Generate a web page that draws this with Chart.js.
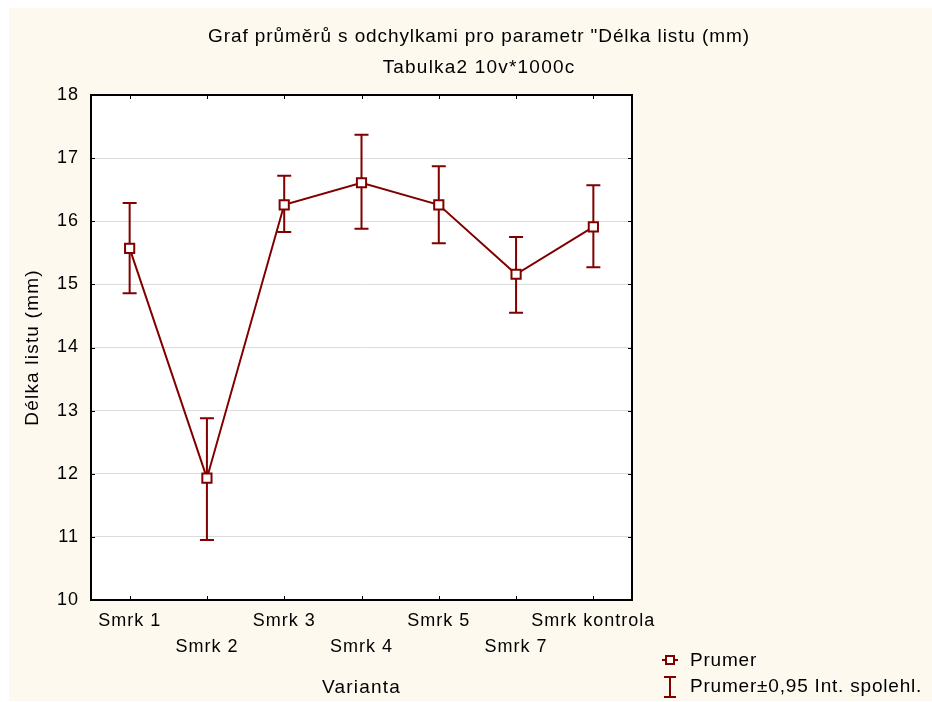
<!DOCTYPE html>
<html>
<head>
<title>Graf průměrů s odchylkami</title>
<script src="https://cdn.jsdelivr.net/npm/chart.js"></script>
<style>
  html, body { margin: 0; padding: 0; background: #ffffff; }
  #wrap { width: 932px; height: 702px; }
</style>
</head>
<body>
<div id="wrap"><canvas id="chart" width="932" height="702"></canvas></div>
<script>
  // data
  const categories = ['Smrk 1', 'Smrk 2', 'Smrk 3', 'Smrk 4', 'Smrk 5', 'Smrk 7', 'Smrk kontrola'];
  const means = [15.57, 11.93, 16.26, 16.61, 16.26, 15.16, 15.91];
  const lower = [14.86, 10.95, 15.83, 15.88, 15.65, 14.55, 15.27];
  const upper = [16.29, 12.88, 16.72, 17.37, 16.87, 15.75, 16.57];
  const yTicks = [10, 11, 12, 13, 14, 15, 16, 17, 18];

  const titleText = 'Graf průměrů s odchylkami pro parametr "Délka listu (mm)';
  const subtitleText = 'Tabulka2 10v*1000c';
  const xTitle = 'Varianta';
  const yTitle = 'Délka listu (mm)';
  const legendMean = 'Prumer';
  const legendCI = 'Prumer±0,95 Int. spolehl.';

  const RED = '#800000';
  const FONT = "'Liberation Sans', Arial, sans-serif";

  // cream page background + white plot area
  const backgroundPlugin = {
    id: 'background',
    beforeDraw(chart) {
      const c = chart.ctx, a = chart.chartArea;
      c.save();
      c.fillStyle = '#ffffff';
      c.fillRect(0, 0, chart.width, chart.height);
      c.fillStyle = '#fdf9ee';
      c.fillRect(9, 8, chart.width - 9, chart.height - 9);
      c.fillStyle = '#ffffff';
      c.fillRect(a.left, a.top, a.right - a.left, a.bottom - a.top);
      c.restore();
      // the original renders text slightly spaced out
      c.letterSpacing = '1px';
    }
  };

  // whiskers from lower/upper arrays
  const errorBarPlugin = {
    id: 'errorBars',
    beforeDatasetsDraw(chart) {
      const c = chart.ctx;
      const xs = chart.scales.x, ys = chart.scales.y;
      c.save();
      c.strokeStyle = RED;
      c.lineWidth = 2;
      categories.forEach((cat, i) => {
        const x = xs.getPixelForValue(i);
        const yl = ys.getPixelForValue(lower[i]);
        const yu = ys.getPixelForValue(upper[i]);
        c.beginPath();
        c.moveTo(x, yl); c.lineTo(x, yu);
        c.moveTo(x - 7, yl); c.lineTo(x + 7, yl);
        c.moveTo(x - 7, yu); c.lineTo(x + 7, yu);
        c.stroke();
      });
      c.restore();
    }
  };

  // frame, inward ticks, titles and legend
  const decorPlugin = {
    id: 'decor',
    afterDraw(chart) {
      const c = chart.ctx, a = chart.chartArea;
      const xs = chart.scales.x, ys = chart.scales.y;
      c.save();
      c.strokeStyle = '#000000';
      c.lineWidth = 2;
      c.strokeRect(a.left, a.top, a.right - a.left, a.bottom - a.top);
      c.lineWidth = 1;
      c.beginPath();
      yTicks.forEach(v => {
        const y = Math.round(ys.getPixelForValue(v)) + 0.5;
        c.moveTo(a.left, y); c.lineTo(a.left + 4, y);
        c.moveTo(a.right, y); c.lineTo(a.right - 4, y);
      });
      categories.forEach((cat, i) => {
        const x = Math.round(xs.getPixelForValue(i)) + 0.5;
        c.moveTo(x, a.top); c.lineTo(x, a.top + 4);
        c.moveTo(x, a.bottom); c.lineTo(x, a.bottom - 4);
      });
      c.stroke();

      c.fillStyle = '#000000';
      c.textAlign = 'center';
      c.textBaseline = 'middle';
      c.font = '19px ' + FONT;
      c.letterSpacing = '0.9px';
      c.fillText(titleText, 479, 37);
      c.letterSpacing = '1.2px';
      c.fillText(subtitleText, 479, 68);

      c.letterSpacing = '1.2px';
      c.font = '19px ' + FONT;
      c.fillText(xTitle, (a.left + a.right) / 2, 688);
      c.save();
      c.translate(33, (a.top + a.bottom) / 2);
      c.rotate(-Math.PI / 2);
      c.fillText(yTitle, 0, 0);
      c.restore();

      // legend
      c.strokeStyle = RED;
      c.lineWidth = 2;
      c.beginPath();
      c.moveTo(662, 660); c.lineTo(678, 660);
      c.stroke();
      c.fillStyle = '#ffffff';
      c.fillRect(666, 656, 8, 8);
      c.strokeRect(666, 656, 8, 8);
      c.beginPath();
      c.moveTo(670, 677); c.lineTo(670, 697);
      c.moveTo(664, 677); c.lineTo(676, 677);
      c.moveTo(664, 697); c.lineTo(676, 697);
      c.stroke();
      c.fillStyle = '#000000';
      c.textAlign = 'left';
      c.font = '19px ' + FONT;
      c.letterSpacing = '0.8px';
      c.fillText(legendMean, 690, 661);
      c.fillText(legendCI, 690, 687);
      c.restore();
    }
  };

  new Chart(document.getElementById('chart'), {
    type: 'line',
    data: {
      labels: categories,
      datasets: [{
        label: legendMean,
        data: means,
        borderColor: RED,
        borderWidth: 2,
        pointStyle: 'rect',
        pointRadius: 6.5,
        pointBorderWidth: 2,
        pointBorderColor: RED,
        pointBackgroundColor: '#ffffff',
        fill: false,
        tension: 0
      }]
    },
    options: {
      responsive: false,
      animation: false,
      layout: { padding: { top: 95, right: 300, bottom: 0, left: 0 } },
      plugins: { legend: { display: false }, tooltip: { enabled: false } },
      scales: {
        x: {
          type: 'category',
          offset: true,
          afterFit(s) { s.height = 102; },
          grid: { display: false, drawTicks: false },
          border: { display: false },
          ticks: {
            color: '#000000',
            padding: 8,
            maxRotation: 0,
            autoSkip: false,
            font: { family: FONT, size: 18, lineHeight: 1.45 },
            callback(v, i) { return i % 2 === 1 ? ['', categories[i]] : categories[i]; }
          }
        },
        y: {
          min: 10,
          max: 18,
          afterFit(s) { s.width = 91; },
          grid: { color: '#dcdcdc', lineWidth: 1, drawTicks: false },
          border: { display: false },
          ticks: {
            stepSize: 1,
            color: '#000000',
            padding: 12,
            font: { family: FONT, size: 18 }
          }
        }
      }
    },
    plugins: [backgroundPlugin, errorBarPlugin, decorPlugin]
  });
</script>
</body>
</html>
